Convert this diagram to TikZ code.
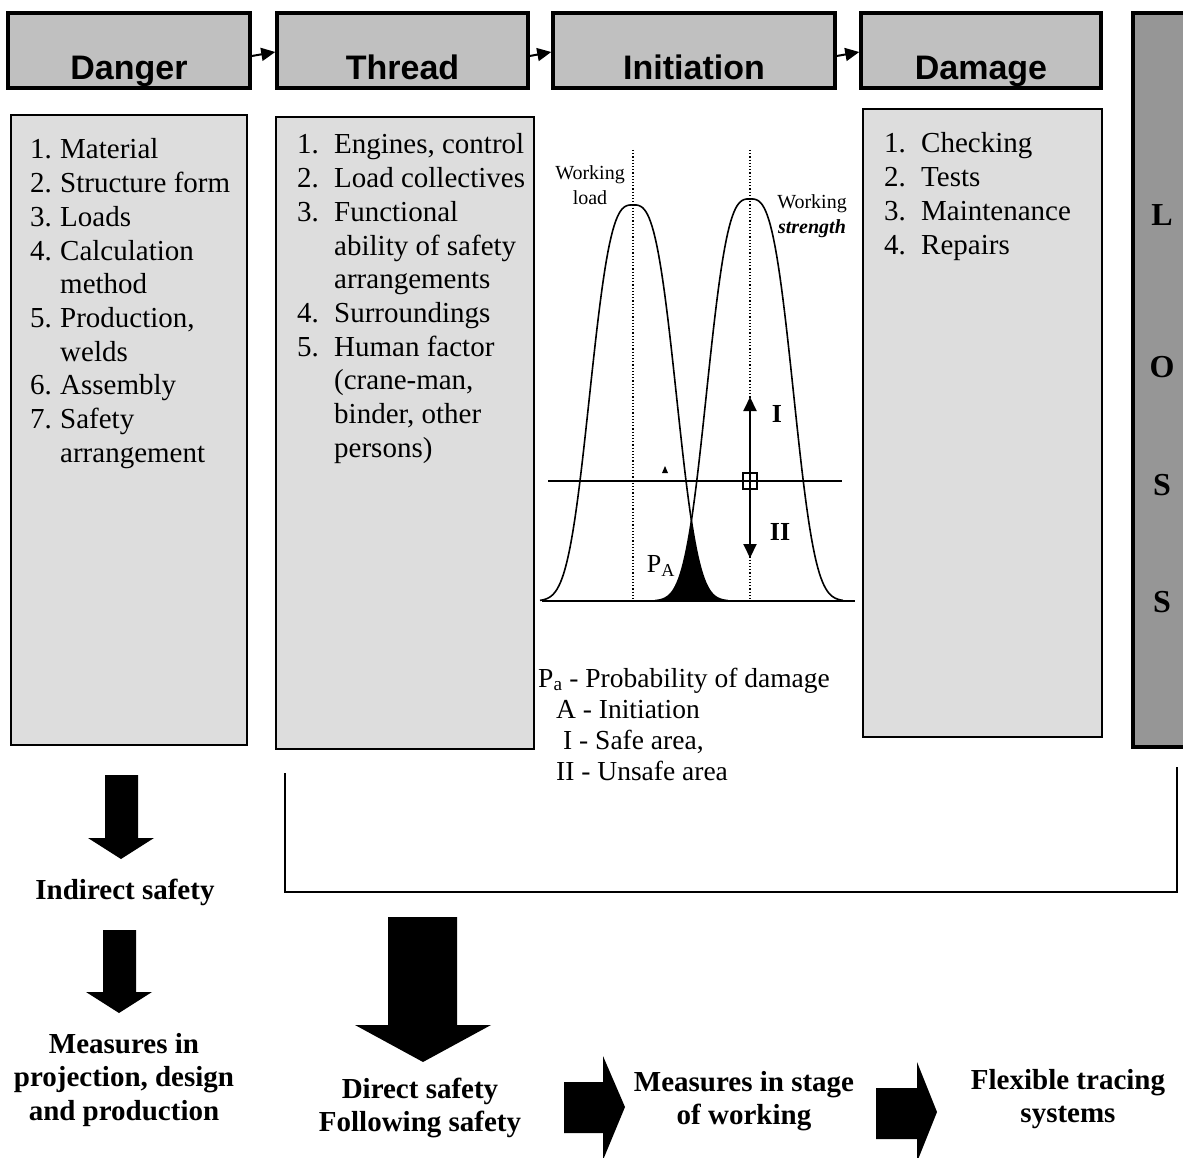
\documentclass[tikz,border=0pt]{standalone}
\usepackage{fontspec}
\setmainfont{Liberation Serif}
\newfontfamily\headsans{Liberation Sans}
\usepackage{tikz}
\usetikzlibrary{arrows.meta}
\definecolor{headgray}{HTML}{C0C0C0}
\definecolor{boxgray}{HTML}{DDDDDD}
\definecolor{lossgray}{HTML}{969696}
\tikzset{
  headbox/.style={draw=black, line width=3.5pt, fill=headgray, inner sep=0pt, text height=67pt, text depth=8pt, font=\headsans\bfseries\fontsize{34}{40}\selectfont},
  listbox/.style={draw=black, line width=2pt, fill=boxgray, inner sep=0pt},
  lossbox/.style={draw=black, line width=3.5pt, fill=lossgray, inner sep=0pt},
  listtext/.style={anchor=base west, inner sep=0pt, font=\fontsize{29}{33.7}\selectfont},
  keytext/.style={anchor=base west, inner sep=0pt, font=\fontsize{27.5}{31}\selectfont},
  losstext/.style={font=\bfseries\fontsize{32}{38}\selectfont},
  smalltext/.style={font=\fontsize{20}{25}\selectfont, align=center, inner sep=0pt},
  romantext/.style={font=\bfseries\fontsize{26}{30}\selectfont, inner sep=0pt},
  safetext/.style={font=\bfseries\fontsize{29}{33.5}\selectfont, align=center, inner sep=0pt},
  harrow/.style={-{Triangle[length=14pt,width=13pt]}, line width=2pt},
  darrow/.style={{Triangle[length=14pt,width=13pt]}-{Triangle[length=14pt,width=13pt]}, line width=2pt},
  curve/.style={line width=1.6pt},
  dotline/.style={dotted, line width=1.2pt},
  bracket/.style={line width=2pt}
}

\begin{document}
\begin{tikzpicture}[x=1pt,y=-1pt]
  \clip (0,0) rectangle (1183,1158);

  % header row
  \node[headbox, minimum width=242pt] (dangerH) at (129,50.5) {Danger};
  \node[headbox, minimum width=251pt] (threadH) at (402.5,50.5) {Thread};
  \node[headbox, minimum width=282pt] (initH) at (694,50.5) {Initiation};
  \node[headbox, minimum width=240pt] (damageH) at (981,50.5) {Damage};

  \draw[harrow] ([yshift=-5.5pt]dangerH.east) -- ([yshift=-1.5pt]threadH.west);
  \draw[harrow] ([yshift=-5.5pt]threadH.east) -- ([yshift=-1.5pt]initH.west);
  \draw[harrow] ([yshift=-5.5pt]initH.east) -- ([yshift=-1.5pt]damageH.west);

  % list boxes
  \node[listbox, minimum width=236pt, minimum height=630pt] (dangerB) at (129,430) {};
  \node[listbox, minimum width=258pt, minimum height=632pt] (threadB) at (405,433) {};
  \node[listbox, minimum width=239pt, minimum height=628pt] (damageB) at (982.5,423) {};
  \node[lossbox, minimum width=80pt, minimum height=734pt] (lossB) at (1173,380) {};

  \node[listtext] (dangerT) at (30,159) {\begin{tabular}[t]{@{}p{30pt}@{}l@{}}
    1. & Material\\ 2. & Structure form\\ 3. & Loads\\ 4. & Calculation\\ & method\\
    5. & Production,\\ & welds\\ 6. & Assembly\\ 7. & Safety\\ & arrangement\end{tabular}};
  \node[listtext] (threadT) at (297,154) {\begin{tabular}[t]{@{}p{37pt}@{}l@{}}
    1. & Engines, control\\ 2. & Load collectives\\ 3. & Functional\\ & ability of safety\\
    & arrangements\\ 4. & Surroundings\\ 5. & Human factor\\ & (crane-man,\\ & binder, other\\
    & persons)\end{tabular}};
  \node[listtext] (damageT) at (884,153) {\begin{tabular}[t]{@{}p{37pt}@{}l@{}}
    1. & Checking\\ 2. & Tests\\ 3. & Maintenance\\ 4. & Repairs\end{tabular}};

  \node[losstext] (lossL) at (1162,215) {L};
  \node[losstext] (lossO) at (1162,367) {O};
  \node[losstext] (lossS) at (1162,485) {S};
  \node[losstext] (lossSS) at (1162,602) {S};

  % initiation graph
  \fill (655,601) -- plot[domain=655:691.5, samples=30] (\x, {601-402*exp(-((abs(\x-750)+0.01)/50)^3)})
    -- plot[domain=691.5:728, samples=30] (\x, {601-396*exp(-((abs(\x-633)+0.01)/50)^3)}) -- cycle;
  \draw[curve] plot[domain=540:728, samples=120] (\x, {601-396*exp(-((abs(\x-633)+0.01)/50)^3)});
  \draw[curve] plot[domain=655:843, samples=120] (\x, {601-402*exp(-((abs(\x-750)+0.01)/50)^3)});

  \coordinate (loadTop) at (633,150);
  \coordinate (loadBot) at (633,600);
  \coordinate (strTop) at (750,150);
  \coordinate (strBot) at (750,600);
  \draw[dotline] (loadTop) -- (loadBot);
  \draw[dotline] (strTop) -- (strBot);

  \coordinate (baseL) at (542,601);
  \coordinate (baseR) at (855,601);
  \coordinate (limL) at (548,481);
  \coordinate (limR) at (842,481);
  \draw[line width=2.5pt] (baseL) -- (baseR);
  \draw[line width=1.6pt] (limL) -- (limR);

  \coordinate (safeTop) at (750,397);
  \coordinate (safeBot) at (750,558);
  \draw[darrow] (safeBot) -- (safeTop);
  \draw[line width=1.4pt] (743,473) rectangle (757,489);
  \fill (662,473) -- (665,466) -- (668,473) -- cycle;

  \node[smalltext] (loadT) at (590,185.5) {Working\\load};
  \node[smalltext] (strT) at (812,216.5) {Working\\\textbf{\textit{strength}}};
  \node[romantext] (safeT) at (777,414) {I};
  \node[romantext] (unsafeT) at (780,532) {II};
  \node[font=\fontsize{26}{30}\selectfont, inner sep=0pt] (paT) at (661,566) {P\textsubscript{A}};

  \node[keytext] (keyT) at (538,687) {\begin{tabular}[t]{@{}l@{}}
    P\textsubscript{a} - Probability of damage\\ \hspace*{18pt}A - Initiation\\
    \hspace*{25pt}I - Safe area,\\ \hspace*{18pt}II - Unsafe area\end{tabular}};

  % bracket
  \coordinate (brTL) at (285,773);
  \coordinate (brBL) at (285,892);
  \coordinate (brBR) at (1177,892);
  \coordinate (brTR) at (1177,767);
  \draw[bracket] (brTL) -- (brBL) -- (brBR) -- (brTR);

  % safety levels
  \node[safetext] (indirectT) at (125,892) {Indirect safety};
  \node[safetext] (designT) at (124,1080) {Measures in\\projection, design\\and production};
  \node[safetext] (directT) at (420,1108) {Direct safety\\Following safety};
  \node[safetext] (workT) at (744,1101) {Measures in stage\\of working};
  \node[safetext] (flexT) at (1068,1099) {Flexible tracing\\systems};

  \fill (105,775) -- (138,775) -- (138,838) -- (154,838) -- (121,859) -- (88,838) -- (105,838) -- cycle;
  \fill (103,930) -- (136,930) -- (136,992) -- (152,992) -- (119,1013) -- (86,992) -- (103,992) -- cycle;
  \fill (388,917) -- (457,917) -- (457,1025) -- (491,1025) -- (423,1062) -- (355,1025) -- (388,1025) -- cycle;
  \fill (564,1082) -- (603,1082) -- (603,1056) -- (625,1107) -- (603,1160) -- (603,1133) -- (564,1133) -- cycle;
  \fill (876,1088) -- (917,1088) -- (917,1062) -- (937,1112) -- (917,1162) -- (917,1139) -- (876,1139) -- cycle;
\end{tikzpicture}
\end{document}
